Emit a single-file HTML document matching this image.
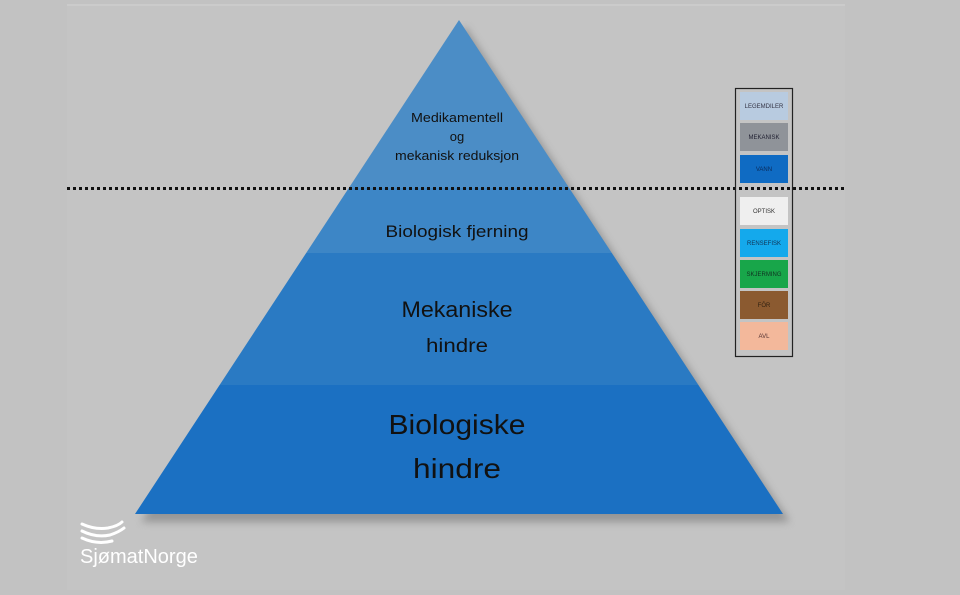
<!DOCTYPE html>
<html><head><meta charset="utf-8"><style>
body{margin:0;width:960px;height:590px;background:#c2c2c2;overflow:hidden;font-family:"Liberation Sans",sans-serif}
</style></head><body>
<svg width="960" height="590" viewBox="0 0 960 590" xmlns="http://www.w3.org/2000/svg">
<rect x="0" y="0" width="960" height="590" fill="#c2c2c2"/>
<rect x="67" y="6" width="778" height="584" fill="#c4c4c4"/>
<line x1="67" y1="5" x2="845" y2="5" stroke="#d4d4d4" stroke-width="1"/>
<defs>
<clipPath id="pyr"><polygon points="459,20 135,514 783,514"/></clipPath>
<filter id="sh" x="-10%" y="-10%" width="120%" height="130%"><feGaussianBlur stdDeviation="4"/></filter>
</defs>
<polygon points="465,26 141,522 790,522" fill="#777" opacity="0.6" filter="url(#sh)"/>
<g clip-path="url(#pyr)">
<rect x="100" y="0" width="720" height="188" fill="#4b8dc6"/>
<rect x="100" y="188" width="720" height="65" fill="#3d86c6"/>
<rect x="100" y="253" width="720" height="132" fill="#2a7ac3"/>
<rect x="100" y="385" width="720" height="140" fill="#1b70c2"/>
</g>
<g fill="#111" text-anchor="middle" font-family="Liberation Sans, sans-serif">
<text x="457" y="122" font-size="13" textLength="92" lengthAdjust="spacingAndGlyphs">Medikamentell</text>
<text x="457" y="141" font-size="13">og</text>
<text x="457" y="160" font-size="13" textLength="124" lengthAdjust="spacingAndGlyphs">mekanisk reduksjon</text>
<text x="457" y="237" font-size="17" textLength="143" lengthAdjust="spacingAndGlyphs">Biologisk fjerning</text>
<text x="457" y="317" font-size="22" textLength="111" lengthAdjust="spacingAndGlyphs">Mekaniske</text>
<text x="457" y="352" font-size="19" textLength="62" lengthAdjust="spacingAndGlyphs">hindre</text>
<text x="457" y="434" font-size="28" textLength="137" lengthAdjust="spacingAndGlyphs">Biologiske</text>
<text x="457" y="478" font-size="28" textLength="88" lengthAdjust="spacingAndGlyphs">hindre</text>
</g>
<line x1="67" y1="188.5" x2="847" y2="188.5" stroke="#111" stroke-width="3" stroke-dasharray="3,3"/>
<rect x="735.5" y="88.5" width="57" height="268" fill="none" stroke="#222" stroke-width="1.2"/>
<g font-size="6" text-anchor="middle" font-family="Liberation Sans, sans-serif">
<rect x="740" y="92" width="48" height="28" fill="#b8cbe0"/><text x="764" y="108" fill="#334">LEGEMDILER</text>
<rect x="740" y="123" width="48" height="28" fill="#8f9399"/><text x="764" y="139" fill="#223">MEKANISK</text>
<rect x="740" y="155" width="48" height="28" fill="#0f6bc3"/><text x="764" y="171" fill="#0a2a5a">VANN</text>
<rect x="740" y="197" width="48" height="28" fill="#efefef"/><text x="764" y="213" fill="#333">OPTISK</text>
<rect x="740" y="229" width="48" height="28" fill="#14a9ec"/><text x="764" y="245" fill="#135">RENSEFISK</text>
<rect x="740" y="260" width="48" height="28" fill="#18a64a"/><text x="764" y="276" fill="#132">SKJERMING</text>
<rect x="740" y="291" width="48" height="28" fill="#8b5a30"/><text x="764" y="307" fill="#321">FÔR</text>
<rect x="740" y="322" width="48" height="28" fill="#f3b89b"/><text x="764" y="338" fill="#533">AVL</text>
</g>
<g fill="none" stroke="#fff" stroke-width="3" stroke-linecap="round">
<path d="M82 524 Q95 530 108 528 Q118 526 122 522"/>
<path d="M82 531 Q96 538 110 535 Q119 532 124 528"/>
<path d="M82 538 Q97 545 112 541"/>
</g>
<text x="80" y="563" font-size="20" fill="#fff" font-family="Liberation Sans, sans-serif">SjømatNorge</text>
</svg>
</body></html>
